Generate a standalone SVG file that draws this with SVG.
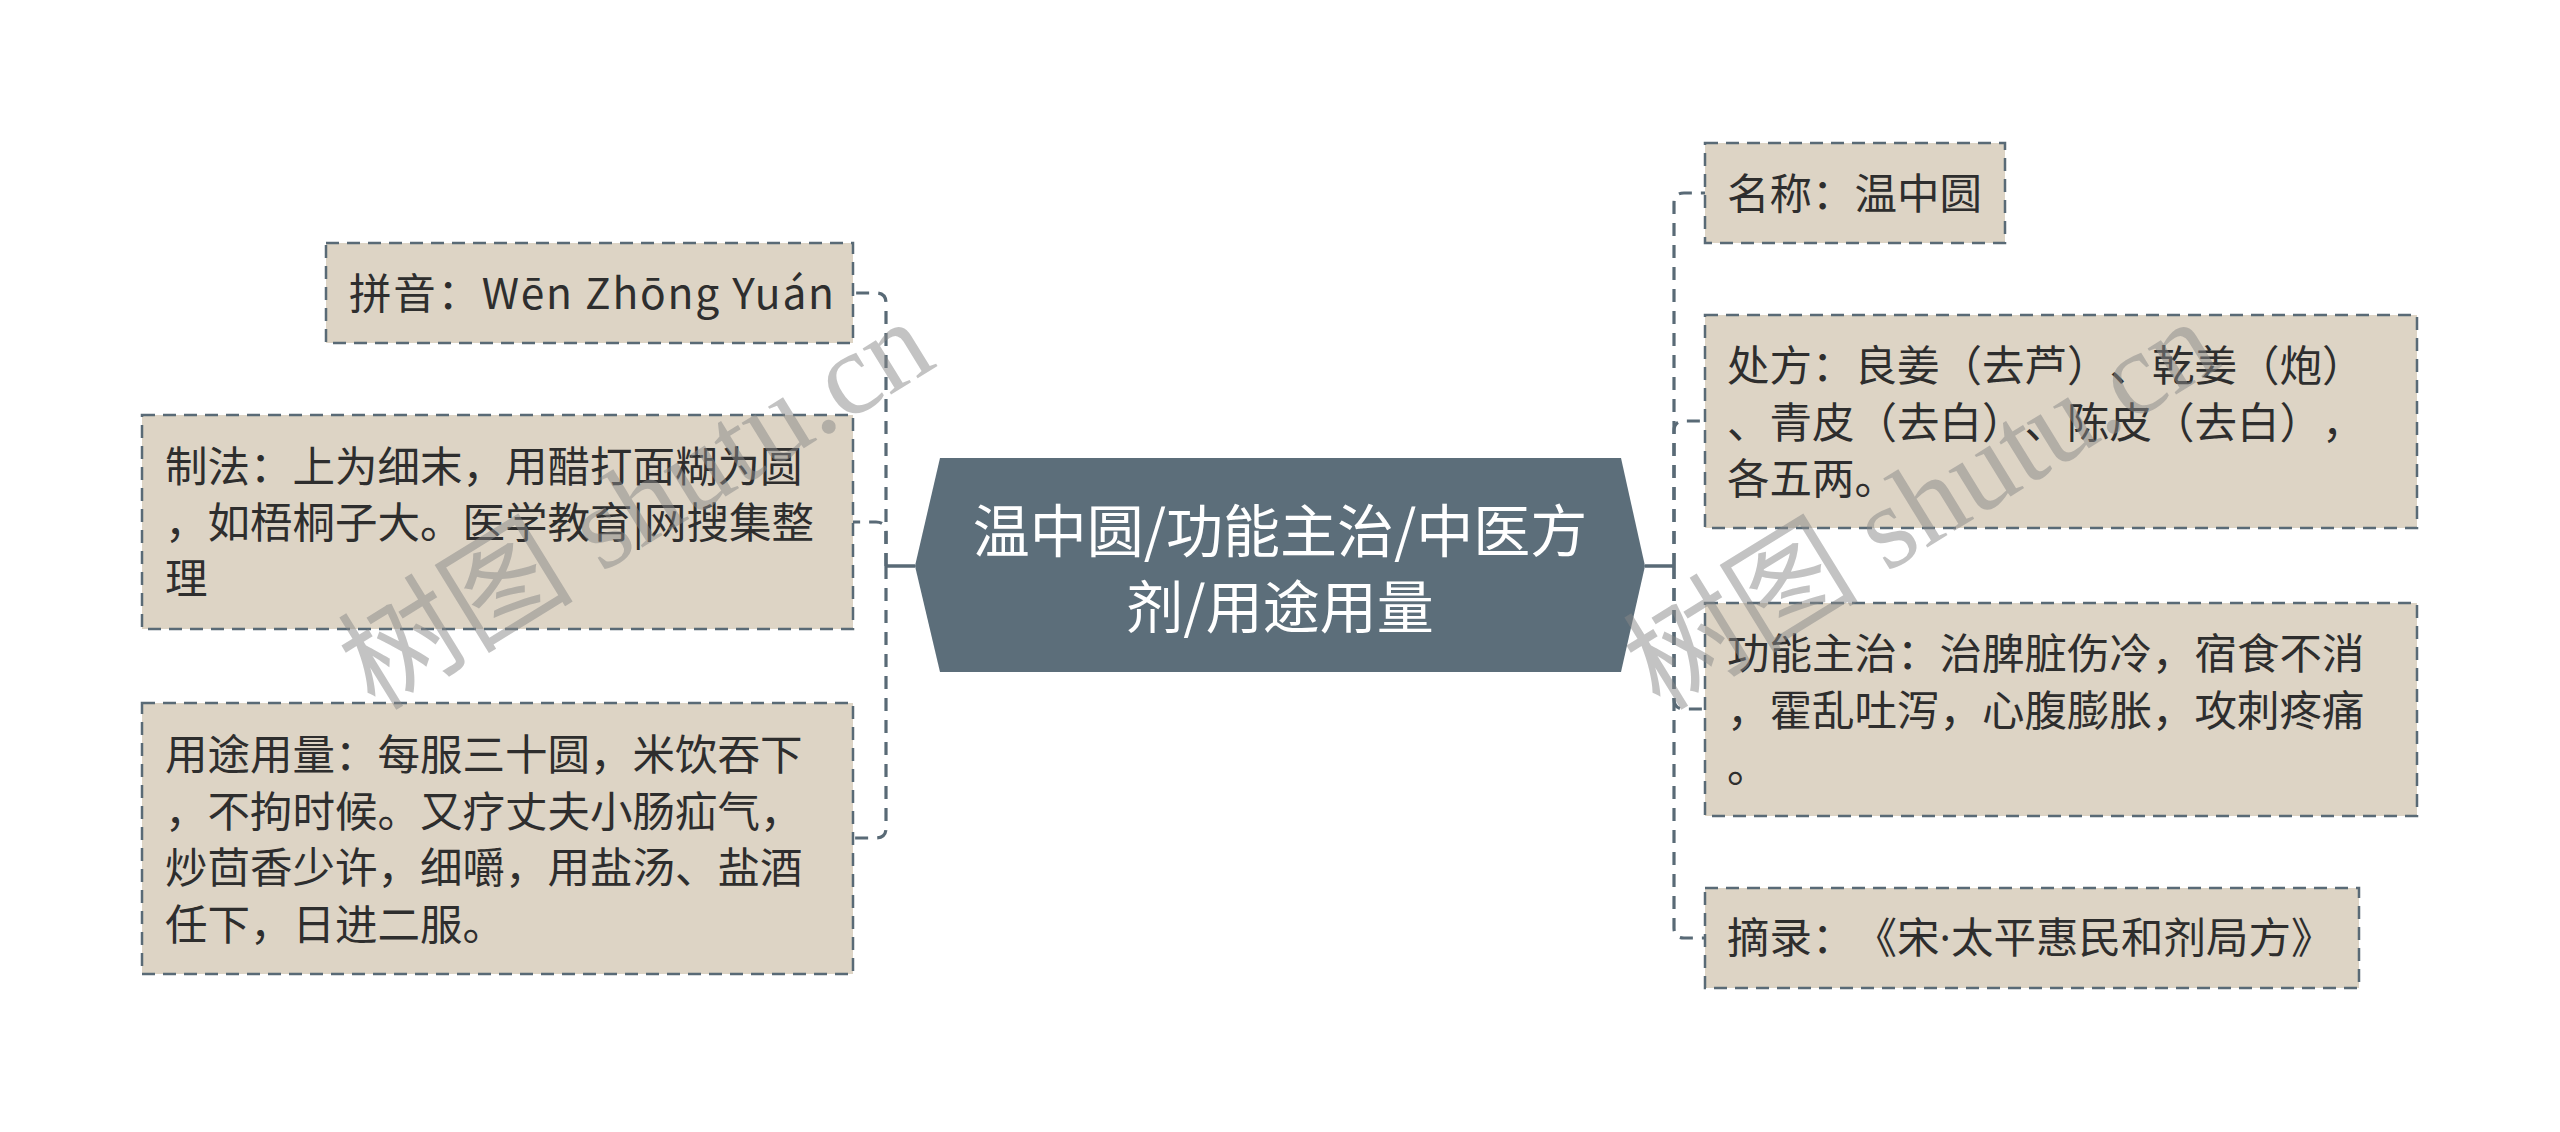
<svg xmlns="http://www.w3.org/2000/svg" width="2560" height="1132" viewBox="0 0 2560 1132">
<style>
.box{fill:#ddd4c5;stroke:#596a76;stroke-width:2.5;stroke-dasharray:13 8}
.t{font-family:"Noto Sans CJK SC","Noto Sans",sans-serif;font-size:42.5px;fill:#2e2e2e;text-spacing-trim:space-all}
.ct{font-family:"Noto Sans CJK SC","Noto Sans",sans-serif;font-size:57px;fill:#ffffff;text-anchor:middle}
.dash{fill:none;stroke:#596a76;stroke-width:3.2;stroke-dasharray:13 9}
.solid{fill:none;stroke:#596a76;stroke-width:3.5}
.wm{font-family:"Liberation Serif","Noto Sans CJK SC",serif;font-size:118px;fill:#888888;fill-opacity:0.5}
.lat{font-family:"Noto Sans","Liberation Sans",sans-serif}
</style>
<rect width="2560" height="1132" fill="#ffffff"/>
<g id="connectors">
<path class="solid" d="M915,566 H886"/>
<path class="dash" d="M886,566 V303 Q886,293 876,293 H853"/>
<path class="dash" d="M886,566 V532 Q886,522 876,522 H853"/>
<path class="dash" d="M886,566 V828 Q886,838 876,838 H853"/>
<path class="solid" d="M1645,566 H1674"/>
<path class="dash" d="M1674,566 V203 Q1674,193 1684,193 H1705"/>
<path class="dash" d="M1674,566 V431 Q1674,421 1684,421 H1705"/>
<path class="dash" d="M1674,566 V699 Q1674,709 1684,709 H1705"/>
<path class="dash" d="M1674,566 V928 Q1674,938 1684,938 H1705"/>
</g>
<g id="center">
<polygon points="940,458 1621,458 1645,566 1621,672 940,672 915,566" fill="#5c6e7a"/>
<text class="ct" x="1280" y="552">温中圆/功能主治/中医方</text>
<text class="ct" x="1280" y="628">剂/用途用量</text>
</g>
<g id="pinyin">
<rect class="box" x="326" y="243" width="527" height="100"/>
<text class="t" x="349" y="309" textLength="485" lengthAdjust="spacing">拼音：Wēn Zhōng Yuán</text>
</g>
<g id="zhifa">
<rect class="box" x="142" y="415" width="711" height="214"/>
<text class="t" x="165" y="482">制法：上为细末，用醋打面糊为圆</text>
<text class="t" x="165" y="538">，如梧桐子大。医学教育|网搜集整</text>
<text class="t" x="165" y="594">理</text>
</g>
<g id="yongtu">
<rect class="box" x="142" y="703" width="711" height="271"/>
<text class="t" x="165" y="770">用途用量：每服三十圆，米饮吞下</text>
<text class="t" x="165" y="826.5">，不拘时候。又疗丈夫小肠疝气，</text>
<text class="t" x="165" y="883">炒茴香少许，细嚼，用盐汤、盐酒</text>
<text class="t" x="165" y="939.5">任下，日进二服。</text>
</g>
<g id="mingcheng">
<rect class="box" x="1705" y="143" width="300" height="100"/>
<text class="t" x="1727" y="209">名称：温中圆</text>
</g>
<g id="chufang">
<rect class="box" x="1705" y="315" width="712" height="213"/>
<text class="t" x="1727" y="381">处方：良姜（去芦）、乾姜（炮）</text>
<text class="t" x="1727" y="437.5">、青皮（去白）、陈皮（去白），</text>
<text class="t" x="1727" y="494">各五两。</text>
</g>
<g id="gongneng">
<rect class="box" x="1705" y="603" width="712" height="213"/>
<text class="t" x="1727" y="669">功能主治：治脾脏伤冷，宿食不消</text>
<text class="t" x="1727" y="725.5">，霍乱吐泻，心腹膨胀，攻刺疼痛</text>
<text class="t" x="1727" y="782">。</text>
</g>
<g id="zhailu">
<rect class="box" x="1705" y="888" width="654" height="100"/>
<text class="t" x="1727" y="953">摘录：《宋<tspan class="lat">·</tspan>太平惠民和剂局方》</text>
</g>
<g id="watermarks">
<text class="wm" transform="translate(375,712) rotate(-31.6)">树图 shutu.cn</text>
<text class="wm" transform="translate(1660,712) rotate(-31.6)">树图 shutu.cn</text>
</g>
</svg>
